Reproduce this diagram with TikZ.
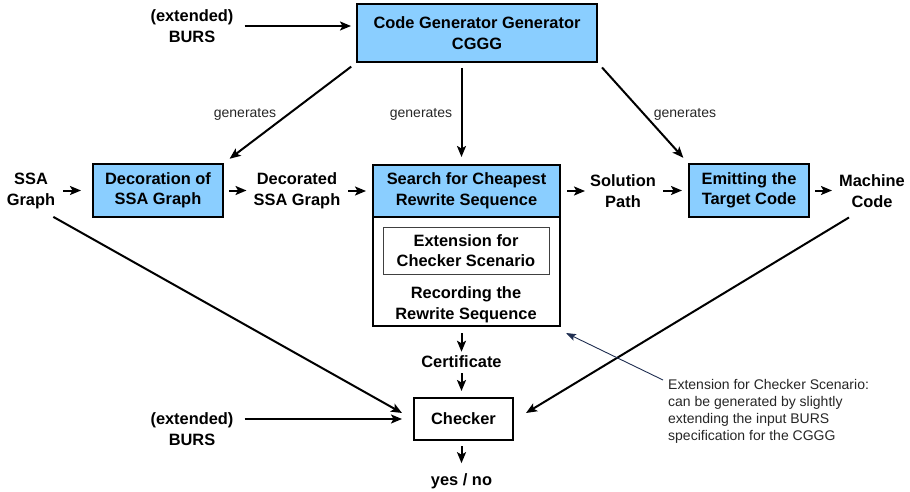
\documentclass[tikz,border=0pt]{standalone}
\usepackage{fontspec}
\setmainfont{Liberation Sans}
\usetikzlibrary{arrows.meta,calc}
\definecolor{boxblue}{RGB}{138,206,255}
\definecolor{notenavy}{RGB}{30,45,80}
\newcommand\bigbf{\fontsize{16.4}{20.5}\selectfont\bfseries}
\newcommand\smallrm{\fontsize{14}{17}\selectfont}
\begin{document}
\begin{tikzpicture}[x=1pt,y=-1pt,
  two/.style={execute at begin node={\rule{0pt}{16pt}}},
  bx/.style={draw,line width=2pt,align=center,inner sep=0pt,font=\bigbf},
  lbl/.style={align=center,inner sep=0pt,font=\bigbf},
  gen/.style={inner sep=0pt,font=\smallrm,text=black!85},
  notetext/.style={align=left,inner sep=0pt,font=\smallrm,text=black!85},
  arr/.style={line width=2pt,-{Stealth[length=11pt,width=9pt,inset=2.5pt]}},
  narr/.style={line width=0.9pt,draw=notenavy,-{Stealth[length=10pt,width=7pt,inset=2pt]}}]
\useasboundingbox (0,0) rectangle (910,492);

% boxes
\node[bx,two,fill=boxblue,minimum width=240pt,minimum height=58pt] (cggg) at (477,33) {Code Generator Generator\\CGGG};
\node[bx,two,fill=boxblue,minimum width=130pt,minimum height=53pt] (deco) at (158,190.5) {Decoration of\\SSA Graph};
\node[bx,two,fill=boxblue,minimum width=187pt,minimum height=52pt] (search) at (466.5,191) {Search for Cheapest\\Rewrite Sequence};
\node[bx,fill=white,minimum width=187pt,minimum height=109pt] (rec) at (466.5,271.5) {};
\node[two,draw=black!75,line width=1pt,minimum width=166pt,minimum height=47pt,align=center,inner sep=0pt,font=\bigbf] (ext) at (466,250.5) {Extension for\\Checker Scenario};
\node[lbl,two] (recording) at (466,305) {Recording the\\Rewrite Sequence};
\node[bx,two,fill=boxblue,minimum width=120pt,minimum height=53pt] (emit) at (749,190.5) {Emitting the\\Target Code};
\node[bx,fill=white,minimum width=99pt,minimum height=42pt] (checker) at (463.5,419) {Checker};

% text nodes
\node[lbl,two] (burs1) at (192,26) {(extended)\\BURS};
\node[lbl,two] (ssa) at (31,191) {SSA\\Graph};
\node[lbl,two] (dssa) at (297,191) {Decorated\\SSA Graph};
\node[lbl,two] (sol) at (623,191) {Solution\\Path};
\node[lbl,two] (mach) at (872,191) {Machine\\Code};
\node[lbl] (cert) at (461.5,362) {Certificate};
\node[lbl,two] (burs2) at (192,429) {(extended)\\BURS};
\node[lbl] (yn) at (461.5,481) {yes / no};

\node[gen] (g1) at (245,114) {generates};
\node[gen] (g2) at (421,114) {generates};
\node[gen] (g3) at (685,114) {generates};

\node[notetext,anchor=north west] (note) at (668,379) {Extension for Checker Scenario:\\can be generated by slightly\\extending the input BURS\\specification for the CGGG};

% top arrows
\draw[arr,shorten <=11pt,shorten >=5pt] (burs1.east) -- (burs1.east -| cggg.west);
\draw[arr,shorten <=6pt,shorten >=7pt] (cggg.south west) -- (deco.north east);
\draw[arr,shorten <=5pt,shorten >=7pt] (cert |- cggg.south) -- (cert |- search.north);
\draw[arr,shorten <=6pt,shorten >=7pt] (cggg.south east) -- (emit.north west);

% row arrows
\draw[arr,shorten <=8pt,shorten >=11pt] (ssa.east |- deco.west) -- (deco.west);
\draw[arr,shorten <=5pt,shorten >=7pt] (deco.east) -- (deco.east -| dssa.west);
\draw[arr,shorten <=8pt,shorten >=6pt] (dssa.east |- search.west) -- (search.west);
\draw[arr,shorten <=6pt,shorten >=5pt] (search.east) -- (search.east -| sol.west);
\draw[arr,shorten <=7pt,shorten >=6pt] (sol.east |- emit.west) -- (emit.west);
\draw[arr,shorten <=5pt,shorten >=7pt] (emit.east) -- (emit.east -| mach.west);

% lower arrows
\draw[arr,shorten <=6pt,shorten >=4pt] (cert |- rec.south) -- (cert.north);
\draw[arr,shorten <=5pt,shorten >=6pt] (cert.south) -- (cert |- checker.north);
\draw[arr,shorten <=5pt,shorten >=10pt] (yn |- checker.south) -- (yn.north);
\draw[arr,shorten <=11pt,shorten >=11pt] (burs2.east |- checker.west) -- (checker.west);
\draw[arr] ($(ssa.south east)+(-2,8)$) -- ($(checker.west)+(-11,-6)$);
\draw[arr] ($(mach.south west)+(10,10)$) -- ($(checker.east)+(12,-6)$);

% annotation
\draw[narr] ($(note.north west)+(-5,1)$) -- ($(rec.south east)+(5,6)$);
\end{tikzpicture}
\end{document}
